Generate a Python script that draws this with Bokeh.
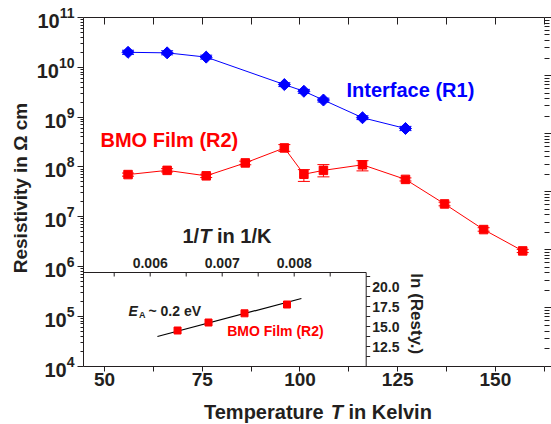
import numpy as np
from bokeh.plotting import figure
from bokeh.models import (Range1d, LinearAxis, LogAxis, FixedTicker, Whisker, TeeHead,
                          ColumnDataSource, LinearScale, LogScale, CustomJSTickFormatter)
from bokeh.core.properties import value
from bokeh.embed import file_html
from bokeh.resources import INLINE

# ---------------- data ----------------
t_interface = [56, 66, 76, 96, 101, 106, 116, 127]
r_interface = [2.0e10, 1.95e10, 1.6e10, 4.5e9, 3.3e9, 2.2e9, 9.7e8, 5.9e8]
r_interface_hi = [2.2e10, 2.15e10, 1.75e10, 4.9e9, 3.6e9, 2.4e9, 1.06e9, 6.5e8]
r_interface_lo = [1.82e10, 1.78e10, 1.46e10, 4.1e9, 3.0e9, 2.0e9, 8.9e8, 5.35e8]

t_film = [56, 66, 76, 86, 96, 101, 106, 116, 127, 137, 147, 157]
r_film = [7.0e7, 8.5e7, 6.6e7, 1.2e8, 2.4e8, 7.1e7, 8.5e7, 1.1e8, 5.6e7, 1.8e7, 5.5e6, 2.05e6]
r_film_hi = [7.5e7, 9.2e7, 7.1e7, 1.3e8, 2.8e8, 8.8e7, 1.11e8, 1.33e8, 6.0e7, 1.95e7, 6.0e6, 2.2e6]
r_film_lo = [6.5e7, 7.9e7, 6.1e7, 1.1e8, 2.05e8, 5.1e7, 6.3e7, 8.3e7, 5.2e7, 1.65e7, 5.1e6, 1.9e6]

inset_inv_t = [0.00638, 0.00681, 0.00731, 0.00790]
inset_ln_r = [14.5, 15.5, 16.65, 17.75]
fit_inv_t = [0.0061, 0.0081]
fit_ln_r = [13.75, 18.5]

x_ticks = [50, 75, 100, 125, 150]
x_minor = [62.5, 87.5, 112.5, 137.5, 162.5]
y_ticks = [1e4, 1e5, 1e6, 1e7, 1e8, 1e9, 1e10, 1e11]
inset_x_labels = [0.006, 0.007, 0.008]
inset_x_label_text = ["0.006", "0.007", "0.008"]
inset_x_ticks = [0.0055, 0.006, 0.0065, 0.007, 0.0075, 0.008, 0.0085]
inset_y_labels = [12.5, 15.0, 17.5, 20.0]
inset_y_label_text = ["12.5", "15.0", "17.5", "20.0"]
inset_y_ticks = [11.25, 12.5, 13.75, 15.0, 16.25, 17.5, 18.75, 20.0, 21.25]

# ---------------- styles / geometry ----------------
FONT = "Liberation Sans"
INK = "#231f20"
BLUE = "#0000ff"
RED = "#ff0000"
W, H = 551, 424

# data box of the main plot and where it sits on the canvas (pixels)
X0, X1 = 44.6, 162.5
LY0, LY1 = 4.0, 11.0            # log10 of resistivity limits
BOX_L, BOX_R, BOX_T, BOX_B = 83, 543.7, 17, 365.5
xpp = (X1 - X0) / (BOX_R - BOX_L)          # K per pixel
ypp = (LY1 - LY0) / (BOX_B - BOX_T)        # decades per pixel
XR = (X0 - BOX_L * xpp, X1 + (W - BOX_R) * xpp)
YR = (10 ** (LY0 - (H - BOX_B) * ypp), 10 ** (LY1 + BOX_T * ypp))


def px_x(px):
    return X0 + (px - BOX_L) * xpp


def px_y(py):
    return 10 ** (LY1 - (py - BOX_T) * ypp)


# inset scale: 1/T (72 px per 0.001, 0.006 at x=149.7 px), ln (8 px per unit, 12.5 at y=346 px)
INV_PP = 0.001 / 72.0
LN_PP = 1.0 / 8.0
INV_R = (0.006 - 149.7 * INV_PP, 0.006 + (W - 149.7) * INV_PP)
LN_R = (12.5 - (H - 346) * LN_PP, 12.5 + 346 * LN_PP)
INSET_INV_LEFT = 0.006 - (149.7 - BOX_L) * INV_PP
INSET_INV_MAX = 0.009
INSET_LN_MIN = 12.5 - (BOX_B - 346) * LN_PP
INSET_LN_MAX = 21.75


def ln_y(py):
    return 12.5 + (346 - py) * LN_PP


def inv_x(px):
    return 0.006 + (px - 149.7) * INV_PP


# right-hand log axis: 6 decades over the main box height
R_PP = 6.0 / (BOX_B - BOX_T)
RR = (10 ** (0 - (H - BOX_B) * R_PP), 10 ** (6 + BOX_T * R_PP))

p = figure(width=W, height=H, y_axis_type="log",
           x_range=Range1d(*XR), y_range=Range1d(*YR),
           x_axis_location=None, y_axis_location=None,
           output_backend="svg", toolbar_location=None,
           min_border=0, min_border_left=0, min_border_right=0,
           min_border_top=0, min_border_bottom=0)
p.outline_line_color = None
p.grid.visible = False
p.background_fill_color = "white"
p.border_fill_color = "white"

p.extra_x_ranges = {"inv": Range1d(*INV_R)}
p.extra_x_scales = {"inv": LinearScale()}
p.extra_y_ranges = {"ln": Range1d(*LN_R), "r6": Range1d(*RR)}
p.extra_y_scales = {"ln": LinearScale(), "r6": LogScale()}

blank = CustomJSTickFormatter(code="return ''")

# bottom axis
xa = LinearAxis(ticker=FixedTicker(ticks=x_ticks, minor_ticks=x_minor),
                fixed_location=10 ** LY0, bounds=(X0, X1),
                major_tick_out=5, major_tick_in=0, minor_tick_out=5, minor_tick_in=0,
                major_label_standoff=2, major_label_text_font=FONT,
                major_label_text_font_size="19px", major_label_text_font_style="bold",
                major_label_text_color=INK, axis_line_color=INK,
                major_tick_line_color=INK, minor_tick_line_color=INK)
p.add_layout(xa, "below")

# top mirror axis
top = LinearAxis(ticker=FixedTicker(ticks=x_ticks, minor_ticks=x_minor), formatter=blank,
                 fixed_location=10 ** LY1, bounds=(X0, X1),
                 major_tick_in=7, major_tick_out=0, minor_tick_in=7, minor_tick_out=0,
                 major_label_standoff=0, axis_line_color=INK,
                 major_tick_line_color=INK, minor_tick_line_color=INK)
p.add_layout(top, "above")

# left axis
y_minor = [m * t for t in y_ticks[:-1] for m in range(2, 10)]
ya = LogAxis(ticker=FixedTicker(ticks=y_ticks, minor_ticks=y_minor),
             fixed_location=X0, bounds=(10 ** LY0, 10 ** LY1),
             major_tick_out=6, major_tick_in=0, minor_tick_out=3, minor_tick_in=0,
             major_label_standoff=3, major_label_text_font=FONT,
             major_label_text_font_size="20px", major_label_text_font_style="bold",
             major_label_text_color=INK, axis_line_color=INK,
             major_tick_line_color=INK, minor_tick_line_color=INK)
p.add_layout(ya, "left")

# right log axis (ticks only)
r_ticks = [1, 10, 100, 1e3, 1e4, 1e5, 1e6]
r_minor = [m * t for t in r_ticks[:-1] for m in range(2, 10)]
right = LogAxis(y_range_name="r6", ticker=FixedTicker(ticks=r_ticks, minor_ticks=r_minor),
                formatter=blank, fixed_location=X1, bounds=(1, 1e6), axis_line_color=None,
                major_tick_in=0, major_tick_out=8, minor_tick_in=0, minor_tick_out=5,
                major_label_standoff=0, major_tick_line_color=INK, minor_tick_line_color=INK)
p.add_layout(right, "right")

# ---------------- main series ----------------
src_i = ColumnDataSource(dict(t=t_interface, r=r_interface, hi=r_interface_hi, lo=r_interface_lo))
src_f = ColumnDataSource(dict(t=t_film, r=r_film, hi=r_film_hi, lo=r_film_lo))

p.line("t", "r", source=src_i, line_color=BLUE, line_width=1)
p.line("t", "r", source=src_f, line_color=RED, line_width=1)

for src, col in ((src_i, BLUE), (src_f, RED)):
    w = Whisker(source=src, base="t", upper="hi", lower="lo", line_color=col, line_width=1,
                upper_head=TeeHead(size=12, line_color=col, line_width=1),
                lower_head=TeeHead(size=12, line_color=col, line_width=1))
    p.add_layout(w)

p.scatter("t", "r", source=src_i, marker="square", angle=np.pi / 4, size=8.5,
          fill_color=BLUE, line_color=BLUE)
p.scatter("t", "r", source=src_f, marker="square", size=8.5,
          fill_color=RED, line_color=RED)

mkw = dict(text_font=value(FONT), text_font_size="20px", text_font_style="bold",
           text_baseline="middle", text_align="left")
p.text(x=[px_x(346)], y=[px_y(89.7)], text=["Interface (R1)"], text_color=BLUE, **mkw)
p.text(x=[px_x(100)], y=[px_y(139.7)], text=["BMO Film (R2)"], text_color=RED, **mkw)

# ---------------- inset ----------------
ir = dict(x_range_name="inv", y_range_name="ln")
p.line([INSET_INV_LEFT, INSET_INV_MAX], [INSET_LN_MAX, INSET_LN_MAX], line_color=INK, line_width=1, **ir)
p.line([INSET_INV_MAX, INSET_INV_MAX], [INSET_LN_MIN, INSET_LN_MAX], line_color=INK, line_width=1, **ir)
p.ray(x=inset_x_ticks, y=[INSET_LN_MAX] * len(inset_x_ticks), length=4, length_units="screen",
      angle=-np.pi / 2, line_color=INK, line_width=1, **ir)
p.ray(x=[INSET_INV_MAX] * len(inset_y_ticks), y=inset_y_ticks, length=4, length_units="screen",
      angle=0, line_color=INK, line_width=1, **ir)
p.text(x=inset_x_labels, y=[INSET_LN_MAX] * 3, text=inset_x_label_text, y_offset=-9.5,
       text_font=value(FONT), text_font_size="14px", text_font_style="bold", text_color=INK,
       text_align="center", text_baseline="middle", **ir)
p.text(x=[INSET_INV_MAX] * 4, y=inset_y_labels, text=inset_y_label_text, x_offset=6,
       text_font=value(FONT), text_font_size="14px", text_font_style="bold", text_color=INK,
       text_align="left", text_baseline="middle", **ir)
p.text(x=[inv_x(415.5)], y=[ln_y(313.3)], text=["ln (Resty.)"], angle=-np.pi / 2,
       text_font=value(FONT), text_font_size="17px", text_font_style="bold", text_color=INK,
       text_align="center", text_baseline="middle", **ir)

# inset title 1/T in 1/K
ikw = dict(text_font=value(FONT), text_font_size="20px", text_color=INK,
           text_baseline="middle", text_align="left")
tx, ty = inv_x(182), ln_y(235)
p.text(x=[tx], y=[ty], text=["1/"], text_font_style="bold", **ikw, **ir)
p.text(x=[tx], y=[ty], text=["T"], x_offset=16.7, text_font_style="bold italic", **ikw, **ir)
p.text(x=[tx], y=[ty], text=["in 1/K"], x_offset=34.5, text_font_style="bold", **ikw, **ir)

# E_A ~ 0.2 eV
ekw = dict(text_font=value(FONT), text_color=INK, text_baseline="middle", text_align="left")
ex, ey = inv_x(128), ln_y(310.1)
p.text(x=[ex], y=[ey], text=["E"], text_font_size="14px", text_font_style="bold italic", **ekw, **ir)
p.text(x=[ex], y=[ey], text=["A"], x_offset=10.5, y_offset=4.8, text_font_size="9px",
       text_font_style="bold", **ekw, **ir)
p.text(x=[ex], y=[ey], text=["~ 0.2 eV"], x_offset=20, text_font_size="14px",
       text_font_style="bold", **ekw, **ir)

p.text(x=[inv_x(226.7)], y=[ln_y(330.1)], text=["BMO Film (R2)"], text_font=value(FONT),
       text_font_size="14px", text_font_style="bold", text_color=RED,
       text_baseline="middle", text_align="left", **ir)

p.line(fit_inv_t, fit_ln_r, line_color="black", line_width=1.2, **ir)
p.scatter(inset_inv_t, inset_ln_r, marker="square", size=7, fill_color=RED, line_color=RED, **ir)

# ---------------- axis titles (text glyphs, placed through the scales) ----------------
xt, yt = px_x(203.5), px_y(411.2)
tkw = dict(text_font=value(FONT), text_font_size="20px", text_color=INK,
           text_baseline="middle", text_align="left")
p.text(x=[xt], y=[yt], text=["Temperature"], text_font_style="bold", **tkw)
p.text(x=[xt], y=[yt], text=["T"], x_offset=126.7, text_font_style="bold italic", **tkw)
p.text(x=[xt], y=[yt], text=["in Kelvin"], x_offset=144.5, text_font_style="bold", **tkw)
p.text(x=[px_x(19.5)], y=[px_y(187.5)], text=["Resistivity in Ω cm"], angle=np.pi / 2,
       text_font=value(FONT), text_font_size="19px", text_font_style="bold", text_color=INK,
       text_baseline="middle", text_align="center")

open("out.html", "w").write(file_html(p, INLINE))
